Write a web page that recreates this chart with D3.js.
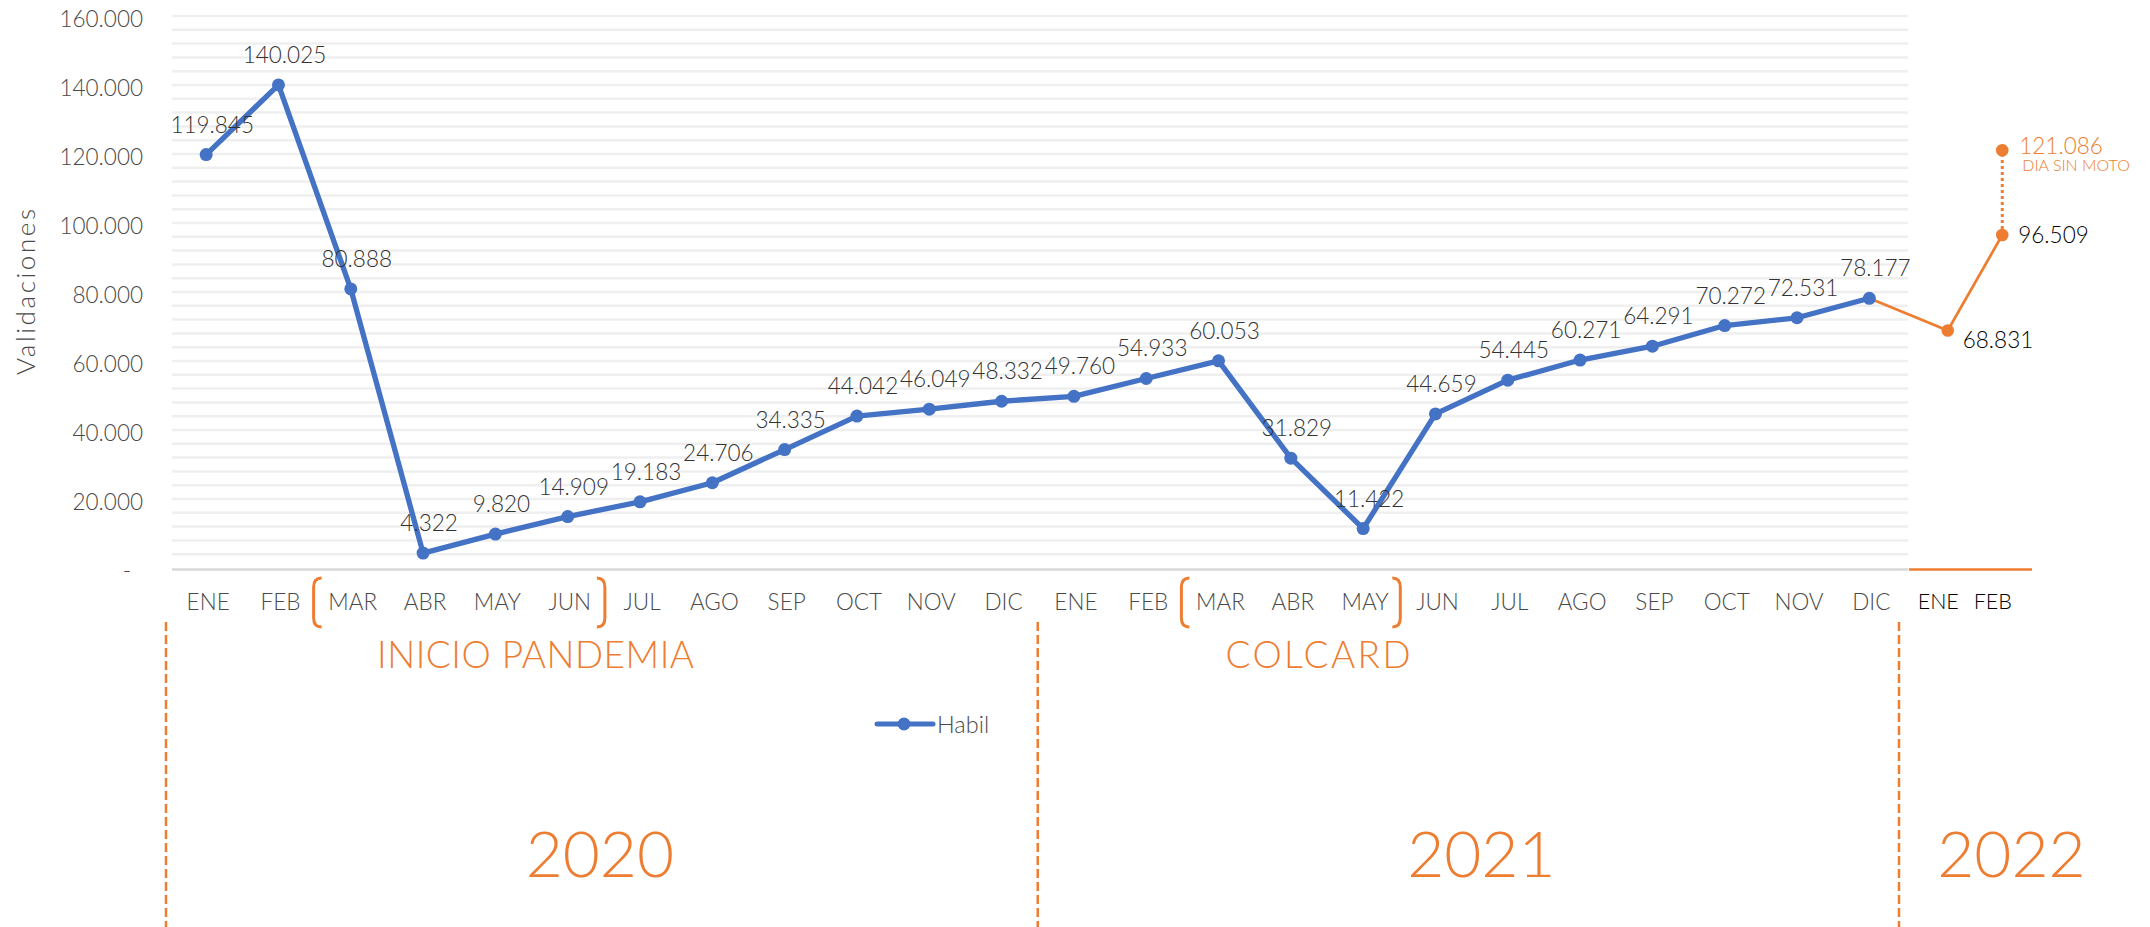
<!DOCTYPE html>
<html>
<head>
<meta charset="utf-8">
<script src="https://cdn.jsdelivr.net/npm/d3@7"></script>
<style>
  body { margin: 0; background: #fff; }
  svg { display: block; }
  text { font-family: Lato, "Noto Sans", sans-serif; font-weight: 300; }
</style>
</head>
<body>
<svg id="chart" width="2150" height="927"></svg>
<script>
// ---- data -------------------------------------------------------------
const months = ["ENE", "FEB", "MAR", "ABR", "MAY", "JUN", "JUL", "AGO", "SEP", "OCT", "NOV", "DIC"];
const years = ["2020", "2021"];
const habil2020 = [119845, 140025, 80888, 4322, 9820, 14909, 19183, 24706, 34335, 44042, 46049, 48332];
const habil2021 = [49760, 54933, 60053, 31829, 11422, 44659, 54445, 60271, 64291, 70272, 72531, 78177];
const months2022 = ["ENE", "FEB"];
const habil2022 = [68831, 96509];
const diaSinMoto = 121086;
const diaSinMotoLabel = "DIA SIN MOTO";
const yTicks = [0, 20000, 40000, 60000, 80000, 100000, 120000, 140000, 160000];
const gridStep = 4000;
const periods = [
  { label: "INICIO PANDEMIA", year: "2020", from: "MAR", to: "JUN" },
  { label: "COLCARD", year: "2021", from: "MAR", to: "MAY" }
];
const yearLabels = ["2020", "2021", "2022"];
const seriesName = "Habil";
const yTitle = "Validaciones";

// ---- setup ------------------------------------------------------------
const BLUE = "#4472C4", ORANGE = "#ED7D31", GRAY = "#4a4a4a", DARK = "#333333";
const FONT = 'Lato, "Noto Sans", sans-serif';
const svg = d3.select("#chart");
const es = d3.formatLocale({ decimal: ",", thousands: ".", grouping: [3], currency: ["$", ""] });
const fmt = es.format(",d");

const plotLeft = 172, plotRight = 1908;
const cats = years.flatMap(yr => months.map(m => `${yr}-${m}`));
const values = habil2020.concat(habil2021);
const series = cats.map((k, i) => ({ key: k, value: values[i] }));

const x = d3.scaleBand().domain(cats).range([plotLeft - 2, plotRight - 2.5]);
const xc = k => x(k) + x.bandwidth() / 2;
const y = d3.scaleLinear().domain([0, 160000]).range([568, 16]);
const x22 = d3.scaleBand().domain(months2022).range([1911, 2020]);
const x22c = k => x22(k) + x22.bandwidth() / 2;

// ---- grid -------------------------------------------------------------
svg.append("g").selectAll("line")
  .data(d3.range(gridStep, 160000 + 1, gridStep))
  .join("line")
  .attr("x1", plotLeft).attr("x2", plotRight)
  .attr("y1", d => y(d)).attr("y2", d => y(d))
  .attr("stroke", "#EFEFEF").attr("stroke-width", 2.5);

// axis baselines
svg.append("line")
  .attr("x1", plotLeft).attr("x2", plotRight)
  .attr("y1", y(0) + 1.5).attr("y2", y(0) + 1.5)
  .attr("stroke", "#D9D9D9").attr("stroke-width", 2.5);
svg.append("line")
  .attr("x1", plotRight + 1).attr("x2", 2032)
  .attr("y1", y(0) + 1.5).attr("y2", y(0) + 1.5)
  .attr("stroke", ORANGE).attr("stroke-width", 2.5);

// ---- y axis -----------------------------------------------------------
const yAxis = svg.append("g")
  .attr("transform", "translate(150,0)")
  .call(d3.axisLeft(y).tickValues(yTicks).tickSize(0).tickPadding(7)
    .tickFormat(v => v === 0 ? "-" : fmt(v)));
yAxis.select(".domain").remove();
yAxis.selectAll("text")
  .attr("fill", GRAY).attr("font-size", 22.5)
  .attr("dy", "0.45em")
  .attr("font-family", FONT).attr("font-weight", 300);
yAxis.selectAll(".tick").filter(d => d === 0).select("text").attr("x", -19);

svg.append("text")
  .attr("transform", `translate(35,292) rotate(-90)`)
  .attr("text-anchor", "middle")
  .attr("fill", GRAY).attr("font-size", 26)
  .attr("textLength", 166).attr("lengthAdjust", "spacing")
  .text(yTitle);

// ---- x axes -----------------------------------------------------------
const xAxis = svg.append("g")
  .attr("transform", `translate(2,${y(0)})`)
  .call(d3.axisBottom(x).tickSize(0).tickPadding(26).tickFormat(k => k.split("-")[1]));
xAxis.select(".domain").remove();
xAxis.selectAll("text")
  .attr("fill", GRAY).attr("font-size", 22.5)
  .attr("font-family", FONT).attr("font-weight", 300);

const xAxis22 = svg.append("g")
  .attr("transform", `translate(0,${y(0)})`)
  .call(d3.axisBottom(x22).tickSize(0).tickPadding(26));
xAxis22.select(".domain").remove();
xAxis22.selectAll("text")
  .attr("fill", "#000").attr("font-size", 21.5)
  .attr("font-family", FONT).attr("font-weight", 300);

// ---- period brackets and titles ---------------------------------------
const bTop = 578, bBot = 627, bHook = 8, bR = 9;
function bracket(xp, dir) {
  return `M${xp + dir * bHook},${bTop} Q${xp},${bTop} ${xp},${bTop + bR} L${xp},${bBot - bR} Q${xp},${bBot} ${xp + dir * bHook},${bBot}`;
}
const periodDx = [4, -9];
periods.forEach((p, i) => {
  const left = x(`${p.year}-${p.from}`) - 1;
  const right = x(`${p.year}-${p.to}`) + x.bandwidth() + 1;
  svg.append("path").attr("d", bracket(left, 1))
    .attr("fill", "none").attr("stroke", ORANGE).attr("stroke-width", 3);
  svg.append("path").attr("d", bracket(right, -1))
    .attr("fill", "none").attr("stroke", ORANGE).attr("stroke-width", 3);
  svg.append("text")
    .attr("x", x(`${p.year}-${p.to}`) + periodDx[i]).attr("y", 668)
    .attr("text-anchor", "middle")
    .attr("fill", ORANGE).attr("font-size", 37)
    .attr("textLength", i === 0 ? 317 : 185).attr("lengthAdjust", "spacing")
    .text(p.label);
});

// ---- year separators and labels ---------------------------------------
const sepX = [x.range()[0] - 4, x(`${years[1]}-${months[0]}`), x.range()[1] - 6.5];
svg.append("g").selectAll("line").data(sepX).join("line")
  .attr("x1", d => d).attr("x2", d => d)
  .attr("y1", 622).attr("y2", 927)
  .attr("stroke", ORANGE).attr("stroke-width", 2.5)
  .attr("stroke-dasharray", "9,4");

const yearX = [
  (sepX[0] + sepX[1]) / 2 - 2,
  (sepX[1] + sepX[2]) / 2 + 13,
  (sepX[2] + 2150) / 2 - 13
];
svg.append("g").selectAll("text").data(yearLabels).join("text")
  .attr("x", (d, i) => yearX[i]).attr("y", 877)
  .attr("text-anchor", "middle")
  .attr("fill", ORANGE).attr("font-size", 64)
  .text(d => d);

// ---- legend -----------------------------------------------------------
const lg = svg.append("g").attr("transform", "translate(877,724)");
lg.append("line").attr("x1", 0).attr("x2", 56)
  .attr("stroke", BLUE).attr("stroke-width", 5).attr("stroke-linecap", "round");
lg.append("circle").attr("cx", 27).attr("r", 6.5).attr("fill", BLUE);
lg.append("text").attr("x", 60).attr("y", 9)
  .attr("fill", GRAY).attr("font-size", 23.5).text(seriesName);

// ---- 2022 continuation ------------------------------------------------
const last = series[series.length - 1];
const pts22 = months2022.map((m, i) => ({ x: x22c(m) + 9.5, y: y(habil2022[i]), v: habil2022[i] }));
const orangePath = [{ x: xc(last.key), y: y(last.value) }].concat(pts22);
svg.append("path")
  .datum(orangePath)
  .attr("d", d3.line().x(d => d.x).y(d => d.y))
  .attr("fill", "none").attr("stroke", ORANGE).attr("stroke-width", 2.7);

const dsm = { x: pts22[1].x, y: y(diaSinMoto) };
svg.append("line")
  .attr("x1", dsm.x).attr("x2", dsm.x)
  .attr("y1", pts22[1].y - 6).attr("y2", dsm.y + 6)
  .attr("stroke", ORANGE).attr("stroke-width", 3)
  .attr("stroke-dasharray", "3,3");

svg.append("g").selectAll("circle").data(pts22.concat([dsm])).join("circle")
  .attr("cx", d => d.x).attr("cy", d => d.y).attr("r", 6.3).attr("fill", ORANGE);

svg.append("text").attr("x", pts22[0].x + 15).attr("y", pts22[0].y + 17)
  .attr("fill", "#000").attr("font-size", 22.5).text(fmt(habil2022[0]));
svg.append("text").attr("x", pts22[1].x + 16).attr("y", pts22[1].y + 8)
  .attr("fill", "#000").attr("font-size", 22.5).text(fmt(habil2022[1]));
svg.append("text").attr("x", dsm.x + 17).attr("y", dsm.y + 4)
  .attr("fill", ORANGE).attr("font-size", 22.5).text(fmt(diaSinMoto));
svg.append("text").attr("x", dsm.x + 20).attr("y", dsm.y + 21)
  .attr("fill", ORANGE).attr("font-size", 16).text(diaSinMotoLabel);

// ---- main series ------------------------------------------------------
svg.append("path")
  .datum(series)
  .attr("d", d3.line().x(d => xc(d.key)).y(d => y(d.value)))
  .attr("fill", "none").attr("stroke", BLUE).attr("stroke-width", 5.3)
  .attr("stroke-linejoin", "round").attr("stroke-linecap", "round");

svg.append("g").selectAll("circle").data(series).join("circle")
  .attr("cx", d => xc(d.key)).attr("cy", d => y(d.value))
  .attr("r", 6.5).attr("fill", BLUE);

svg.append("g").selectAll("text").data(series).join("text")
  .attr("x", d => xc(d.key) + 6).attr("y", d => y(d.value) - 22)
  .attr("text-anchor", "middle")
  .attr("fill", DARK).attr("font-size", 22.5)
  .text(d => fmt(d.value));
</script>
</body>
</html>
